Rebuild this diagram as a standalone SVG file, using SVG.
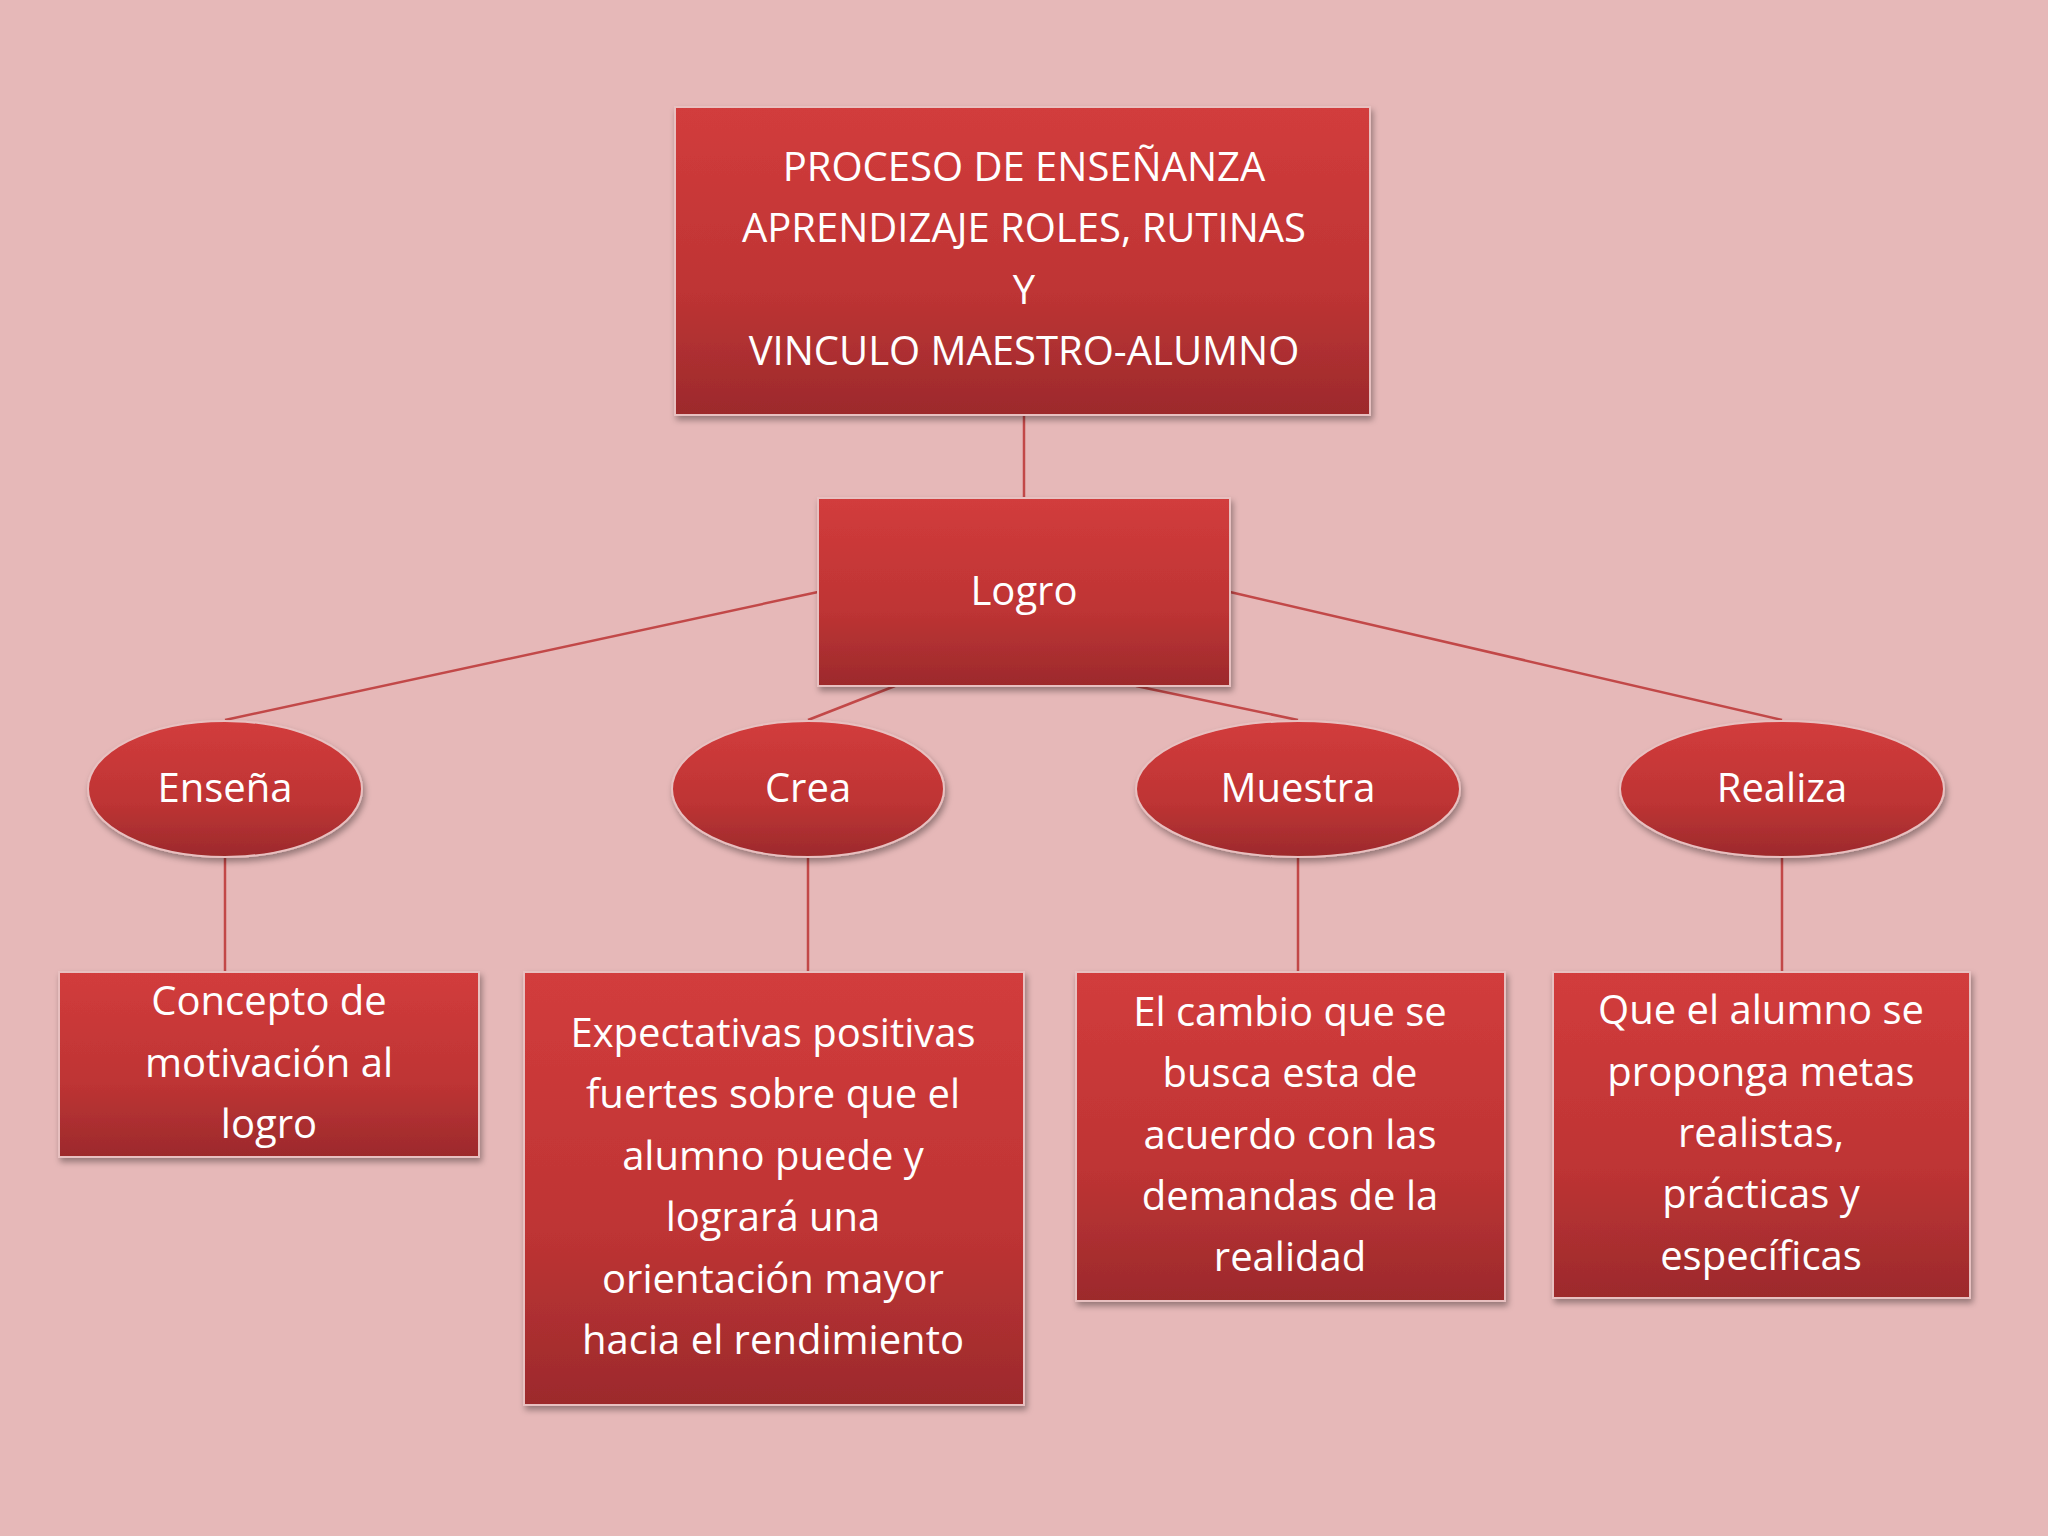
<svg xmlns="http://www.w3.org/2000/svg" width="2048" height="1536" viewBox="0 0 2048 1536">
<defs>
<linearGradient id="g" x1="0" y1="0" x2="0" y2="1"><stop offset="0" stop-color="#D23C3C"/><stop offset="0.6" stop-color="#BE3434"/><stop offset="1" stop-color="#9C2A2C"/></linearGradient>
<filter id="sh" x="-10%" y="-10%" width="120%" height="130%"><feDropShadow dx="2" dy="4" stdDeviation="3" flood-color="#000" flood-opacity="0.35"/></filter>
</defs>
<style>
.n{fill:url(#g);stroke:#E8C0C0;stroke-width:2;filter:url(#sh)}
.t{font-family:"Open Sans",sans-serif;font-size:40px;fill:#fff;text-anchor:middle;dominant-baseline:middle}
.c{stroke:#C24848;stroke-width:2.5;fill:none}
</style>
<rect width="2048" height="1536" fill="#E6B8B8"/>
<g id="connectors">
<line class="c" x1="1024" y1="415" x2="1024" y2="498"/>
<line class="c" x1="818" y1="592" x2="225" y2="720"/>
<line class="c" x1="895" y1="686" x2="808" y2="720"/>
<line class="c" x1="1136" y1="686" x2="1298" y2="720"/>
<line class="c" x1="1230" y1="592" x2="1782" y2="720"/>
<line class="c" x1="225" y1="858" x2="225" y2="972"/>
<line class="c" x1="808" y1="858" x2="808" y2="972"/>
<line class="c" x1="1298" y1="858" x2="1298" y2="972"/>
<line class="c" x1="1782" y1="858" x2="1782" y2="972"/>
</g>
<g id="top"><rect class="n" x="675" y="107" width="695" height="308"/>
<text class="t" x="1024" y="170">PROCESO DE ENSEÑANZA</text><text class="t" x="1024" y="231">APRENDIZAJE ROLES, RUTINAS</text><text class="t" x="1024" y="293">Y</text><text class="t" x="1024" y="354">VINCULO MAESTRO-ALUMNO</text></g>
<g id="logro"><rect class="n" x="818" y="498" width="412" height="188"/><text class="t" x="1024" y="594">Logro</text></g>
<g id="ensena"><ellipse class="n" cx="225" cy="789" rx="137" ry="68"/><text class="t" x="225" y="791">Enseña</text></g>
<g id="crea"><ellipse class="n" cx="808" cy="789" rx="136" ry="68"/><text class="t" x="808" y="791">Crea</text></g>
<g id="muestra"><ellipse class="n" cx="1298" cy="789" rx="162" ry="68"/><text class="t" x="1298" y="791">Muestra</text></g>
<g id="realiza"><ellipse class="n" cx="1782" cy="789" rx="162" ry="68"/><text class="t" x="1782" y="791">Realiza</text></g>
<g id="concepto"><rect class="n" x="59" y="972" width="420" height="185"/>
<text class="t" x="269" y="1004">Concepto de</text><text class="t" x="269" y="1066">motivación al</text><text class="t" x="269" y="1127">logro</text></g>
<g id="expectativas"><rect class="n" x="524" y="972" width="500" height="433"/>
<text class="t" x="773" y="1036">Expectativas positivas</text><text class="t" x="773" y="1097">fuertes sobre que el</text><text class="t" x="773" y="1159">alumno puede y</text><text class="t" x="773" y="1220">logrará una</text><text class="t" x="773" y="1282">orientación mayor</text><text class="t" x="773" y="1343">hacia el rendimiento</text></g>
<g id="cambio"><rect class="n" x="1076" y="972" width="429" height="329"/>
<text class="t" x="1290" y="1015">El cambio que se</text><text class="t" x="1290" y="1076">busca esta de</text><text class="t" x="1290" y="1138">acuerdo con las</text><text class="t" x="1290" y="1199">demandas de la</text><text class="t" x="1290" y="1260">realidad</text></g>
<g id="que"><rect class="n" x="1553" y="972" width="417" height="326"/>
<text class="t" x="1761" y="1013">Que el alumno se</text><text class="t" x="1761" y="1075">proponga metas</text><text class="t" x="1761" y="1136">realistas,</text><text class="t" x="1761" y="1197">prácticas y</text><text class="t" x="1761" y="1259">específicas</text></g>
</svg>
